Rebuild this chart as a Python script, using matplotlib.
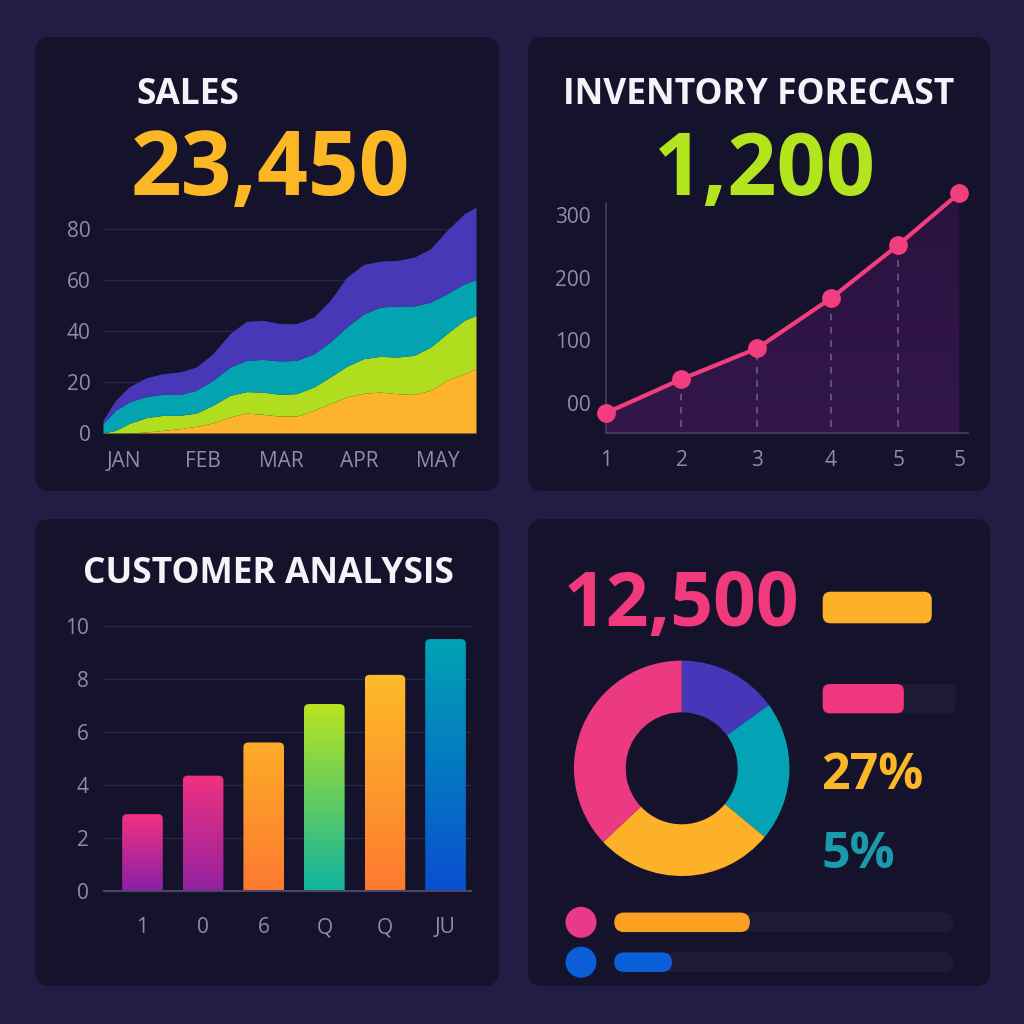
import numpy as np
import matplotlib
matplotlib.use("Agg")
import matplotlib.pyplot as plt
from matplotlib.patches import FancyBboxPatch, Circle
from matplotlib.colors import to_rgb

plt.rcParams['font.family'] = ['Open Sans', 'DejaVu Sans']

# ---------------- data ----------------
sales_kpi = "23,450"
months = ["JAN", "FEB", "MAR", "APR", "MAY"]
sales_x = [-0.27, -0.11, 0.06, 0.28, 0.49, 0.71, 0.92, 1.13, 1.35, 1.56, 1.77, 1.99,
           2.20, 2.42, 2.63, 2.84, 3.06, 3.27, 3.48, 3.70, 3.91, 4.12, 4.34, 4.49]
# cumulative tops of each stacked band, bottom to top
sales_orange = [0, 0, 0, 0.4, 1.0, 1.7, 2.6, 3.9, 6.3, 7.8, 7.3, 6.6,
                6.6, 8.9, 11.5, 14.1, 15.6, 16.0, 15.4, 15.1, 16.7, 20.6, 23.2, 25.2]
sales_green = [0, 1.0, 3.7, 6.0, 6.9, 6.9, 7.8, 10.8, 14.7, 16.2, 16.0, 15.1,
               15.4, 18.0, 21.9, 26.1, 29.1, 30.0, 29.7, 30.4, 33.6, 38.9, 44.1, 46.0]
sales_teal = [3.7, 8.9, 12.1, 14.3, 15.1, 15.1, 16.7, 20.6, 25.8, 28.4, 28.8, 28.2,
              28.4, 31.0, 35.6, 41.5, 46.7, 49.3, 49.7, 49.7, 51.2, 54.5, 58.4, 60.0]
sales_purple = [5.0, 12.8, 18.0, 21.6, 23.2, 23.9, 25.8, 31.0, 38.9, 43.7, 44.1, 42.8,
                42.8, 45.4, 51.9, 61.0, 66.0, 67.3, 67.5, 68.8, 72.1, 79.3, 85.8, 88.4]
sales_yticks = [0, 20, 40, 60, 80]

inv_kpi = "1,200"
inv_x = [1, 2, 3, 3.98, 4.87, 5.68]
inv_xlabels = ["1", "2", "3", "4", "5", "5"]
inv_vals = [-16, 38, 87, 167, 252, 335]
inv_yticks = [0, 100, 200, 300]
inv_ylabels = ["00", "100", "200", "300"]

cust_labels = ["1", "0", "6", "Q", "Q", "JU"]
cust_vals = [2.9, 4.35, 5.6, 7.05, 8.15, 9.5]
cust_yticks = [0, 2, 4, 6, 8, 10]

donut_vals = [15, 21, 27, 37]
kpi_total = "12,500"
kpi_pct1 = "27%"
kpi_pct2 = "5%"
top_bar_fracs = [0.82, 0.61]
bottom_bar_fracs = [0.40, 0.17]

# ---------------- style ----------------
BG = '#221d44'
PANEL = '#15122b'
TICK = '#8f8cab'
GRID = '#29264a'
WHITE = '#f4f3f8'
W = 1024

fig = plt.figure(figsize=(10.24, 10.24), dpi=100)
fig.patch.set_facecolor(BG)


def axes_px(l, t, r, b):
    return fig.add_axes([l / W, 1 - b / W, (r - l) / W, (b - t) / W])


def ftext(x, y, s, **kw):
    fig.text(x / W, 1 - y / W, s, **kw)


def gradient(c_bottom, c_top, n=128):
    a, b = np.array(to_rgb(c_bottom)), np.array(to_rgb(c_top))
    t = np.linspace(0, 1, n)[:, None]
    return (a + (b - a) * t)[:, None, :]


# background layer in pixel coordinates
bg = fig.add_axes([0, 0, 1, 1])
bg.set_xlim(0, W)
bg.set_ylim(W, 0)
bg.axis('off')
for (l, t, r, b) in [(35, 37, 499, 491), (528, 37, 990, 491),
                     (35, 519, 499, 986), (528, 519, 990, 986)]:
    bg.add_patch(FancyBboxPatch((l, t), r - l, b - t,
                                boxstyle="round,pad=0,rounding_size=15",
                                fc=PANEL, ec='none'))

tick_kw = dict(length=0, labelsize=15, labelcolor=TICK)
TITLE = 25.5

# ---------------- Sales ----------------
ftext(136, 104, "SALES", color=WHITE, fontsize=TITLE, fontweight='bold', va='baseline')
ftext(131, 195, sales_kpi, color='#fbb824', fontsize=64, fontweight='bold', va='baseline')

ax1 = axes_px(103, 203, 476, 433)
ax1.set_facecolor('none')
lower = np.zeros(len(sales_x))
for top, col in [(sales_orange, '#fdb32b'), (sales_green, '#b0de1f'),
                 (sales_teal, '#04a3b2'), (sales_purple, '#4838b8')]:
    ax1.fill_between(sales_x, lower, top, color=col, lw=0, zorder=2)
    lower = np.array(top)
ax1.set_xlim(sales_x[0], sales_x[-1])
ax1.set_ylim(0, 90)
ax1.set_yticks(sales_yticks)
ax1.set_xticks(range(len(months)))
ax1.set_xticklabels(months)
ax1.tick_params(axis='y', pad=9, **tick_kw)
ax1.tick_params(axis='x', pad=13, **tick_kw)
ax1.grid(axis='y', color=GRID, lw=1, zorder=0)
ax1.set_axisbelow(True)
for s in ax1.spines.values():
    s.set_visible(False)

# ---------------- Inventory ----------------
ftext(759, 104, "INVENTORY FORECAST", color=WHITE, fontsize=TITLE, fontweight='bold',
      va='baseline', ha='center')
ftext(765, 195, inv_kpi, color='#b3e51f', fontsize=62, fontweight='bold',
      va='baseline', ha='center')

ax2 = axes_px(606, 203, 968, 433)
ax2.set_facecolor('none')
ybot = -48
poly = ax2.fill_between(inv_x, inv_vals, ybot, color='none', lw=0)
im = ax2.imshow(gradient('#33174a', '#2a1240'), extent=(inv_x[0], inv_x[-1], ybot, inv_vals[-1]),
                aspect='auto', origin='lower', zorder=1)
im.set_clip_path(poly.get_paths()[0], transform=ax2.transData)
ax2.vlines(inv_x[1:5], ybot + 10, inv_vals[1:5], colors='#6e5a88', lw=1.2,
           linestyles=(0, (4, 4)), zorder=2)
ax2.plot(inv_x, inv_vals, color='#f23d7f', lw=3, marker='o', ms=12.5,
         clip_on=False, zorder=4)
ax2.set_xlim(1, 5.795)
ax2.set_ylim(ybot, 319)
ax2.set_xticks(inv_x)
ax2.set_xticklabels(inv_xlabels)
ax2.set_yticks(inv_yticks)
ax2.set_yticklabels(inv_ylabels)
ax2.tick_params(axis='y', pad=11, **tick_kw)
ax2.tick_params(axis='x', pad=12, **tick_kw)
for k in ['top', 'right']:
    ax2.spines[k].set_visible(False)
for k in ['left', 'bottom']:
    ax2.spines[k].set_color('#45415f')
    ax2.spines[k].set_linewidth(1.2)

# ---------------- Customer ----------------
ftext(268, 583, "CUSTOMER ANALYSIS", color=WHITE, fontsize=TITLE, fontweight='bold',
      va='baseline', ha='center')

ax3 = axes_px(104, 625, 471, 891)
ax3.set_facecolor('none')
bar_grads = [('#8a20a8', '#f0327f'), ('#9320a0', '#f0327f'), ('#fd7a30', '#fdab28'),
             ('#10b4a0', '#b8e41f'), ('#fd7a30', '#fdbb28'), ('#0a4fd0', '#00a3b5')]
idx = np.arange(len(cust_vals))
bars = ax3.bar(idx, cust_vals, width=0.67, color='none', lw=0)
xu, yu = 60.6, 26.6  # pixels per data unit
for rect, (cb, ct) in zip(bars, bar_grads):
    x0, w, h = rect.get_x(), rect.get_width(), rect.get_height()
    clip = FancyBboxPatch((x0, -0.5), w, h + 0.5,
                          boxstyle=f"round,pad=0,rounding_size={5 / xu}",
                          mutation_aspect=xu / yu, fc='none', ec='none')
    ax3.add_patch(clip)
    bi = ax3.imshow(gradient(cb, ct), extent=(x0, x0 + w, 0, h), aspect='auto',
                    origin='lower', zorder=2)
    bi.set_clip_path(clip)
ax3.set_xlim(-0.635, 5.42)
ax3.set_ylim(0, 10.03)
ax3.set_yticks(cust_yticks)
ax3.set_xticks(idx)
ax3.set_xticklabels(cust_labels)
ax3.tick_params(axis='y', pad=11, **tick_kw)
ax3.tick_params(axis='x', pad=19, **tick_kw)
ax3.grid(axis='y', color=GRID, lw=1, zorder=0)
ax3.set_axisbelow(True)
for k in ['top', 'right', 'left']:
    ax3.spines[k].set_visible(False)
ax3.spines['bottom'].set_color('#4a4666')
ax3.spines['bottom'].set_linewidth(1.5)
ax3.spines['bottom'].set_zorder(3)

# ---------------- KPI / donut ----------------
ftext(564, 626, kpi_total, color='#f03a7c', fontsize=54, fontweight='bold', va='baseline')
ftext(821, 789, kpi_pct1, color='#fcb728', fontsize=36, fontweight='bold', va='baseline')
ftext(821, 868, kpi_pct2, color='#1a9bab', fontsize=36, fontweight='bold', va='baseline')

ax4 = axes_px(574, 660.6, 789.4, 876)
ax4.pie(donut_vals, colors=['#4737b8', '#03a2b4', '#fdb128', '#ec3a82'],
        startangle=90, counterclock=False,
        wedgeprops=dict(width=0.48, edgecolor='none'))
ax4.set_xlim(-1, 1)
ax4.set_ylim(-1, 1)
ax4.axis('off')

track = '#1d1a36'
# top right pills
pill_specs = [(591.7, 31.6, 8, '#fdb128', False), (684.0, 29.3, 7, '#f0377e', True)]
for frac, (y, h, r, col, show_track) in zip(top_bar_fracs, pill_specs):
    if show_track:
        bg.add_patch(FancyBboxPatch((822.7, y), 133, h, boxstyle=f"round,pad=0,rounding_size={r}",
                                    fc=track, ec='none'))
    bg.add_patch(FancyBboxPatch((822.7, y), 133 * frac, h, boxstyle=f"round,pad=0,rounding_size={r}",
                                fc=col, ec='none'))

# bottom rows
row_specs = [(922.3, '#e8398a', '#fca024'), (962.2, '#0b5fd6', '#0b5fd6')]
for frac, (yc, dot, col) in zip(bottom_bar_fracs, row_specs):
    bg.add_patch(Circle((581, yc), 15.5, fc=dot, ec='none'))
    bg.add_patch(FancyBboxPatch((614.3, yc - 9.75), 339, 19.5,
                                boxstyle="round,pad=0,rounding_size=9.75", fc=track, ec='none'))
    bg.add_patch(FancyBboxPatch((614.3, yc - 9.75), 339 * frac, 19.5,
                                boxstyle="round,pad=0,rounding_size=9.75", fc=col, ec='none'))

fig.savefig("out.png", dpi=100, facecolor=BG)
